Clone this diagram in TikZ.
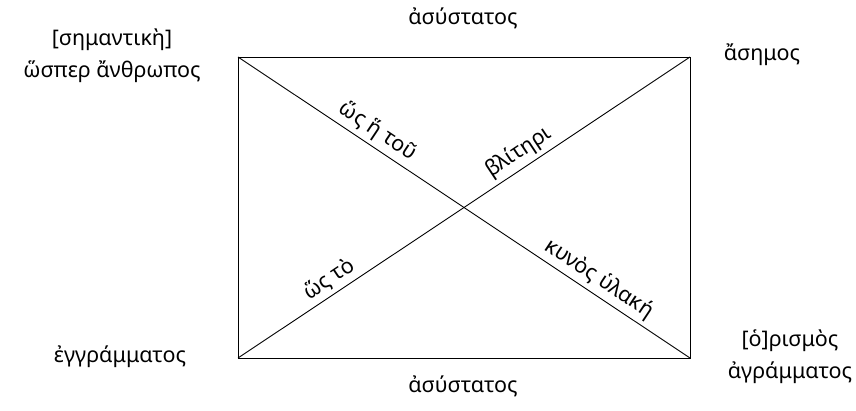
\documentclass[tikz,border=0pt]{standalone}
\usepackage{fontspec}
\setmainfont{Noto Sans}
\begin{document}
\begin{tikzpicture}[x=1pt,y=-1pt,
  lbl/.style={font=\fontsize{21.5}{26}\selectfont, inner sep=0pt, align=center},
  dlbl/.style={lbl, sloped, above, inner sep=4pt},
  edge/.style={line width=0.9pt}]
\useasboundingbox (0,0) rectangle (856,410);
\coordinate (tl) at (238,57);
\coordinate (tr) at (690,57);
\coordinate (bl) at (238,358);
\coordinate (br) at (690,358);
\draw[edge] (tl) rectangle (br);
\draw[edge] (tl) -- node[dlbl, pos=0.29] (d1) {ὥς ἥ τοῦ} node[dlbl, pos=0.78] (d2) {κυνὸς ὑλακή} (br);
\draw[edge] (bl) -- node[dlbl, pos=0.22] (d3) {ὥς τὸ} node[dlbl, pos=0.64] (d4) {βλίτηρι} (tr);
\node[lbl] (top) at (463,18) {ἀσύστατος};
\node[lbl] (bot) at (463,386) {ἀσύστατος};
\node[lbl] (ltop) at (112,56) {[σημαντικὴ]\\[6pt]ὥσπερ ἄνθρωπος};
\node[lbl] (rtop) at (762,55) {ἄσημος};
\node[lbl] (lbot) at (120,357) {ἐγγράμματος};
\node[lbl] (rbot) at (790,357) {[ὁ]ρισμὸς\\[6pt]ἀγράμματος};
\end{tikzpicture}
\end{document}
